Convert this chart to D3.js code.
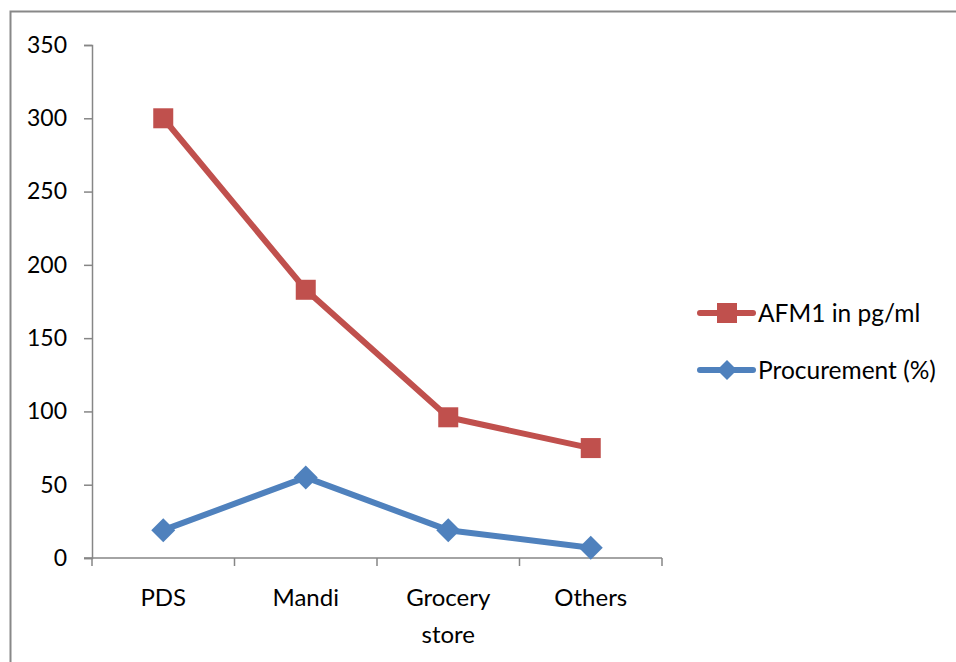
<!DOCTYPE html>
<html>
<head>
<meta charset="utf-8">
<script src="https://cdn.jsdelivr.net/npm/d3@7"></script>
<style>
  html, body { margin: 0; padding: 0; background: #fff; }
  svg { display: block; }
  text { font-family: Lato, "Open Sans", sans-serif; fill: #000; }
</style>
</head>
<body>
<svg id="chart" width="956" height="662"></svg>
<script>
// Source categories (x axis)
const categories = ["PDS", "Mandi", "Grocery store", "Others"];
// Series values
const afm1Values = [300, 183, 96, 75];
const procurementValues = [19, 55, 19, 7];
// Y axis ticks
const yTicks = [0, 50, 100, 150, 200, 250, 300, 350];
const seriesNames = ["AFM1 in pg/ml", "Procurement (%)"];

const svg = d3.select("#chart");
const axisColor = "#868686";
const colors = { red: "#C0504D", blue: "#4F81BD" };

// Outer frame
svg.append("rect")
  .attr("x", 10.5).attr("y", 11.5)
  .attr("width", 960).attr("height", 700)
  .attr("fill", "none").attr("stroke", "#888").attr("stroke-width", 2);

const plot = { left: 92, right: 662, top: 45, bottom: 558 };

const x = d3.scaleBand().domain(categories).range([plot.left, plot.right]);
const y = d3.scaleLinear().domain([0, 350]).range([plot.bottom, plot.top]);
const cx = c => x(c) + x.bandwidth() / 2;

// Y axis
const yAxis = svg.append("g")
  .attr("transform", `translate(${plot.left},0)`)
  .call(d3.axisLeft(y).tickValues(yTicks).tickSize(8).tickPadding(17));
yAxis.select(".domain").attr("stroke", axisColor).attr("stroke-width", 1.5);
yAxis.selectAll(".tick line").attr("stroke", axisColor).attr("stroke-width", 1.5);
yAxis.selectAll(".tick text")
  .attr("font-family", "Lato, 'Open Sans', sans-serif")
  .attr("font-size", 23).attr("fill", "#000");

// X axis: ticks on band boundaries
const xAxisG = svg.append("g").attr("transform", `translate(0,${plot.bottom})`);
xAxisG.append("line")
  .attr("x1", plot.left - 8).attr("x2", plot.right)
  .attr("stroke", axisColor).attr("stroke-width", 1.5);
const boundaries = categories.map(c => x(c)).concat([plot.right]);
xAxisG.selectAll("line.tick").data(boundaries).join("line")
  .attr("class", "tick")
  .attr("x1", d => d).attr("x2", d => d)
  .attr("y1", 0).attr("y2", 8)
  .attr("stroke", axisColor).attr("stroke-width", 1.5);

// Category labels (wrapped into lines)
const labelLines = { "Grocery store": ["Grocery", "store"] };
categories.forEach(c => {
  const lines = labelLines[c] || [c];
  const t = svg.append("text")
    .attr("x", cx(c)).attr("y", 606)
    .attr("text-anchor", "middle").attr("font-size", 24);
  lines.forEach((ln, i) => {
    t.append("tspan").attr("x", cx(c)).attr("dy", i === 0 ? 0 : 37).text(ln);
  });
});

const line = d3.line().x((d, i) => cx(categories[i])).y(d => y(d));

// AFM1 series
svg.append("path").datum(afm1Values)
  .attr("d", line).attr("fill", "none")
  .attr("stroke", colors.red).attr("stroke-width", 6).attr("stroke-linejoin", "round");
svg.selectAll("rect.afm").data(afm1Values).join("rect")
  .attr("class", "afm")
  .attr("x", (d, i) => cx(categories[i]) - 10)
  .attr("y", d => y(d) - 10)
  .attr("width", 20).attr("height", 20)
  .attr("fill", colors.red);

// Procurement series
svg.append("path").datum(procurementValues)
  .attr("d", line).attr("fill", "none")
  .attr("stroke", colors.blue).attr("stroke-width", 6).attr("stroke-linejoin", "round");
const diamond = "M0,-12L12,0L0,12L-12,0Z";
svg.selectAll("path.proc").data(procurementValues).join("path")
  .attr("class", "proc")
  .attr("d", diamond)
  .attr("transform", (d, i) => `translate(${cx(categories[i])},${y(d)})`)
  .attr("fill", colors.blue);

// Legend
const legend = svg.append("g");
const legendItems = [
  { name: seriesNames[0], color: colors.red, marker: "square", y: 313 },
  { name: seriesNames[1], color: colors.blue, marker: "diamond", y: 370 }
];
legendItems.forEach(it => {
  legend.append("line")
    .attr("x1", 700).attr("x2", 753).attr("y1", it.y).attr("y2", it.y)
    .attr("stroke", it.color).attr("stroke-width", 6).attr("stroke-linecap", "round");
  if (it.marker === "square") {
    legend.append("rect").attr("x", 717).attr("y", it.y - 10)
      .attr("width", 20).attr("height", 20).attr("fill", it.color);
  } else {
    legend.append("path").attr("d", "M0,-10L10,0L0,10L-10,0Z")
      .attr("transform", `translate(727,${it.y})`).attr("fill", it.color);
  }
  legend.append("text").attr("x", 758).attr("y", it.y)
    .attr("dy", "0.35em").attr("font-size", 24.5).text(it.name);
});
</script>
</body>
</html>
